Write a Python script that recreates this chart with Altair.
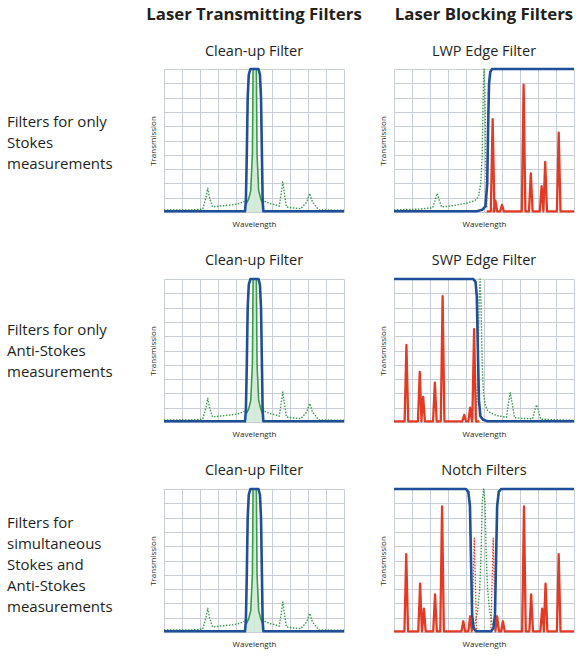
import altair as alt
import pandas as pd

# ---------------- text ----------------
COL_HEADERS = ["Laser Transmitting Filters", "Laser Blocking Filters"]
PANEL_TITLES = [["Clean-up Filter", "LWP Edge Filter"],
                ["Clean-up Filter", "SWP Edge Filter"],
                ["Clean-up Filter", "Notch Filters"]]
ROW_LABELS = ["Filters for only\nStokes\nmeasurements",
              "Filters for only\nAnti-Stokes\nmeasurements",
              "Filters for\nsimultaneous\nStokes and\nAnti-Stokes\nmeasurements"]
X_TITLE = "Wavelength"
Y_TITLE = "Transmission"
GRID_TICKS = [0, 10, 20, 30, 40, 50, 60, 70, 80, 90, 100]

# ---------------- Clean-up filter (same in all rows) ----------------
cu_blue_x = [0, 45.0, 45.5, 46.0, 46.5, 47.1, 48.0, 52.5, 53.3, 53.9, 54.4, 54.8, 55.2, 100]
cu_blue_y = [0.5, 0.5, 8, 40, 80, 96, 100, 100, 96, 80, 40, 8, 0.5, 0.5]
cu_laser_x = [45.8, 47.0, 48.2, 49.1, 49.5, 51.3, 51.7, 52.6, 53.8, 54.8]
cu_laser_y = [6, 9, 15, 40, 100, 100, 40, 15, 9, 6]
cu_green_left_x = [0, 14, 21.5, 23.3, 24.3, 25.3, 27, 32, 38, 42, 44.5, 46]
cu_green_left_y = [1.4, 1.4, 2, 10, 16.6, 10, 3.5, 4.3, 5, 6, 7.5, 9]
cu_green_right_x = [54.6, 56, 58.5, 62, 64, 65, 66, 67, 68, 72, 76, 79.3, 80.9, 82.5, 86, 100]
cu_green_right_y = [9, 7.5, 6, 5, 4, 12, 21, 12, 3.5, 2.8, 2.3, 7, 13, 7, 1.5, 1.2]

# ---------------- LWP edge filter ----------------
lwp_blue_x = [0, 46, 49, 50.8, 51.8, 52.3, 52.8, 53.5, 54.5, 100]
lwp_blue_y = [0.5, 0.5, 1.5, 4, 20, 60, 90, 98, 100, 100]
lwp_green_x = [0, 14, 21.5, 22.8, 24, 25.2, 26.5, 33, 40, 45, 47, 48.2, 49, 49.6, 50, 50.5, 51, 51.6]
lwp_green_y = [1.5, 2, 3, 8, 13, 8, 3.5, 4.5, 6, 8, 11, 20, 40, 85, 100, 85, 30, 3]
lwp_red_start, lwp_red_end = 51.5, 100
lwp_red_centers = [54.8, 56.3, 60, 72, 76, 82, 84, 91.5]
lwp_red_heights = [65, 8, 5, 89, 27, 18, 35, 55.5]

# ---------------- SWP edge filter ----------------
swp_blue_x = [0, 44, 45.3, 46, 46.6, 47.2, 48, 49.5, 52, 100]
swp_blue_y = [100, 100, 98, 88, 50, 15, 4, 1.5, 0.5, 0.5]
swp_green_x = [45.5, 46.5, 47.3, 47.8, 48.3, 49, 49.7, 50.6, 52, 53.5, 57, 60, 62.5, 63.4, 64.6, 65.8, 67,
               72, 77, 78.2, 79.2, 80.2, 81.5, 90, 100]
swp_green_y = [3, 30, 85, 100, 85, 40, 20, 12.4, 8, 6.5, 4.5, 3.8, 3.3, 12, 20.5, 12, 3,
               2.5, 2.2, 8, 12, 8, 2, 1.5, 1.2]
swp_red_start, swp_red_end = 0, 47.5
swp_red_centers = [6.9, 14.3, 16.2, 22.7, 27, 39, 42.3, 44.5]
swp_red_heights = [54, 35, 17.5, 27.5, 88, 5, 10, 65]

# ---------------- Notch filter ----------------
notch_blue_x = [0, 40, 41.3, 42.2, 42.8, 43.4, 44.2, 45.5, 54, 55.3, 56.1, 56.7, 57.3, 58.2, 59.5, 100]
notch_blue_y = [100, 100, 98, 88, 50, 12, 3, 0.5, 0.5, 3, 12, 50, 88, 98, 100, 100]
notch_green_x = [43.5, 45, 46.5, 47.6, 48.4, 49, 49.8, 50.6, 51.2, 52, 53.1, 54.6, 56]
notch_green_y = [2, 6, 15, 30, 55, 90, 100, 90, 55, 30, 15, 6, 2]
notch_red_left_start, notch_red_left_end = 0, 43.5
notch_red_left_centers = [6.8, 14.5, 16.6, 22.8, 26.7, 38.5, 42.3]
notch_red_left_heights = [54.4, 33.8, 16.4, 26.3, 87.8, 7.5, 11]
notch_red_right_start, notch_red_right_end = 56, 100
notch_red_right_centers = [57.3, 60.5, 72.2, 76.2, 82.3, 84.2, 91.5]
notch_red_right_heights = [11, 7.5, 87.8, 26.3, 16.4, 33.8, 54.4]
notch_blocked_centers = [44.6, 55.1]
notch_blocked_heights = [65.7, 65.7]

# ---------------- styling ----------------
BLUE = "#1f4f98"
GREEN = "#3a9a48"
GREEN_FILL = "#cfead5"
RED = "#e43a24"
TEXT = "#231f20"
FONT = "Open Sans"
PANEL_W, PANEL_H = 180, 143
LABEL_W = 114
SPIKE_HW = 1.0
GREEN_HW = 1.3


def curve(xs, ys, seg=0):
    return pd.DataFrame({"x": xs, "y": ys, "i": list(range(len(xs))), "seg": [seg] * len(xs)})


def spike_path(centers, heights, start, end, hw=SPIKE_HW, base=0.5):
    xs, ys = [start], [base]
    for c, h in sorted(zip(centers, heights)):
        xs += [c - hw, c, c + hw]
        ys += [base, h, base]
    xs.append(end)
    ys.append(base)
    return xs, ys


def isolated_spikes(centers, heights, hw=GREEN_HW, base=0.5):
    frames = []
    for k, (c, h) in enumerate(zip(centers, heights)):
        frames.append(curve([c - hw, c, c + hw], [base, h, base], seg=k))
    return pd.concat(frames, ignore_index=True)


X = alt.X("x:Q", scale=alt.Scale(domain=[0, 100], nice=False, zero=False),
          axis=alt.Axis(values=GRID_TICKS, title=X_TITLE))
Y = alt.Y("y:Q", scale=alt.Scale(domain=[0, 100], nice=False, zero=False),
          axis=alt.Axis(values=GRID_TICKS, title=Y_TITLE))


def line(df, color, width, dash=None):
    kw = dict(color=color, strokeWidth=width, strokeJoin="round", strokeCap="butt", clip=False)
    if dash:
        kw["strokeDash"] = dash
    return alt.Chart(df).mark_line(**kw).encode(x=X, y=Y, order="i:Q", detail="seg:N")


def area(df, color, opacity):
    return alt.Chart(df).mark_area(color=color, opacity=opacity).encode(x=X, y=Y)


def title_params(row, col):
    if row == 0:
        return alt.TitleParams(text=COL_HEADERS[col], subtitle=PANEL_TITLES[row][col],
                               font=FONT, fontSize=16.8, fontWeight="bold", color=TEXT,
                               subtitleFont=FONT, subtitleFontSize=14.5, subtitleColor=TEXT,
                               subtitlePadding=21, offset=9, anchor="middle")
    return alt.TitleParams(text=PANEL_TITLES[row][col], font=FONT, fontSize=14.5,
                           fontWeight="normal", color=TEXT, offset=9, anchor="middle")


def cleanup_panel(row):
    layers = [
        area(curve(cu_laser_x, cu_laser_y), GREEN_FILL, 0.9),
        line(curve(cu_green_left_x, cu_green_left_y), GREEN, 1.4, [1.5, 1.5]),
        line(curve(cu_green_right_x, cu_green_right_y), GREEN, 1.4, [1.5, 1.5]),
        line(curve(cu_laser_x, cu_laser_y), GREEN, 1.6),
        line(curve(cu_blue_x, cu_blue_y), BLUE, 2.6),
    ]
    return alt.layer(*layers).properties(width=PANEL_W, height=PANEL_H, title=title_params(row, 0))


def lwp_panel():
    rx, ry = spike_path(lwp_red_centers, lwp_red_heights, lwp_red_start, lwp_red_end)
    layers = [
        line(curve(lwp_green_x, lwp_green_y), GREEN, 1.4, [1.5, 1.5]),
        line(curve(rx, ry), RED, 2.3),
        line(curve(lwp_blue_x, lwp_blue_y), BLUE, 2.6),
    ]
    return alt.layer(*layers).properties(width=PANEL_W, height=PANEL_H, title=title_params(0, 1))


def swp_panel():
    rx, ry = spike_path(swp_red_centers, swp_red_heights, swp_red_start, swp_red_end)
    layers = [
        line(curve(swp_green_x, swp_green_y), GREEN, 1.4, [1.5, 1.5]),
        line(curve(rx, ry), RED, 2.3),
        line(curve(swp_blue_x, swp_blue_y), BLUE, 2.6),
    ]
    return alt.layer(*layers).properties(width=PANEL_W, height=PANEL_H, title=title_params(1, 1))


def notch_panel():
    lx, ly = spike_path(notch_red_left_centers, notch_red_left_heights,
                        notch_red_left_start, notch_red_left_end)
    rx, ry = spike_path(notch_red_right_centers, notch_red_right_heights,
                        notch_red_right_start, notch_red_right_end)
    red = pd.concat([curve(lx, ly, 0), curve(rx, ry, 1)], ignore_index=True)
    layers = [
        line(curve(notch_green_x, notch_green_y), GREEN, 1.4, [1.5, 1.5]),
        line(isolated_spikes(notch_blocked_centers, notch_blocked_heights), RED, 1.3, [1.5, 1.5]),
        line(red, RED, 2.3),
        line(curve(notch_blue_x, notch_blue_y), BLUE, 2.6),
    ]
    return alt.layer(*layers).properties(width=PANEL_W, height=PANEL_H, title=title_params(2, 1))


LABEL_Y = [53, 51, 34]


def label_chart(row):
    df = pd.DataFrame({"t": [ROW_LABELS[row]]})
    return alt.Chart(df).mark_text(align="left", baseline="middle", font=FONT, fontSize=15,
                                   lineHeight=21, lineBreak="\n", color=TEXT).encode(
        x=alt.value(7), y=alt.value(LABEL_Y[row]), text="t:N"
    ).properties(width=LABEL_W, height=PANEL_H)


cells = [
    label_chart(0), cleanup_panel(0), lwp_panel(),
    label_chart(1), cleanup_panel(1), swp_panel(),
    label_chart(2), cleanup_panel(2), notch_panel(),
]

chart = alt.concat(*cells, columns=3, spacing={"row": 67, "column": 50}, bounds="flush").properties(
    padding={"left": 0, "top": 7, "right": 0, "bottom": 5}
).configure_view(stroke=None).configure_axis(
    labels=False, ticks=False, domain=False,
    gridColor="#c9ced6", gridWidth=1, gridOpacity=1,
    titleFont=FONT, titleFontSize=8, titleFontWeight="normal", titleColor=TEXT,
).configure_axisX(titlePadding=8).configure_axisY(titlePadding=7)

chart.save("out.html", embed_options={"renderer": "svg", "actions": False})
